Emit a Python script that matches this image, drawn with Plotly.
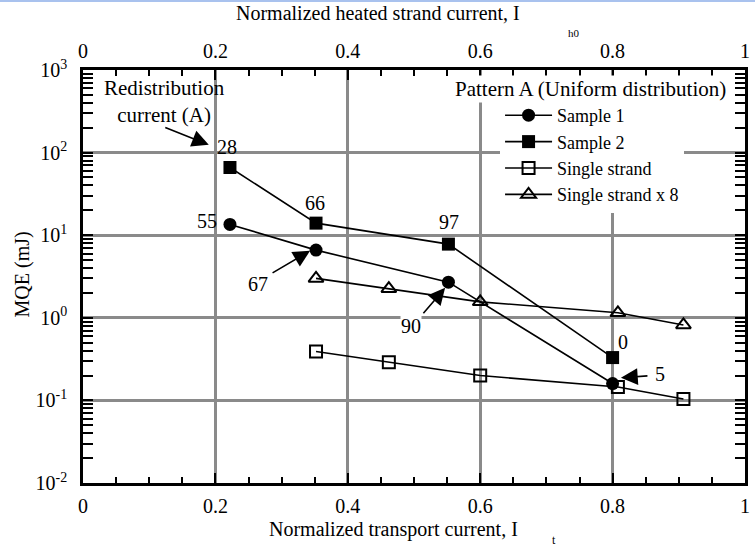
import plotly.graph_objects as go

# ---- data ----
s1_x = [0.222, 0.352, 0.552, 0.800]
s1_y = [13.5, 6.6, 2.7, 0.16]

s2_x = [0.222, 0.352, 0.552, 0.800]
s2_y = [66, 14, 7.8, 0.33]

ss_x = [0.352, 0.462, 0.600, 0.808, 0.907]
ss_y = [0.39, 0.29, 0.20, 0.145, 0.104]

ss8_x = [0.352, 0.462, 0.600, 0.808, 0.907]
ss8_y = [3.0, 2.25, 1.56, 1.15, 0.82]

x_ticks = [0, 0.2, 0.4, 0.6, 0.8, 1]
x_ticklabels = ["0", "0.2", "0.4", "0.6", "0.8", "1"]
y_ticks = [0.01, 0.1, 1, 10, 100, 1000]
y_ticklabels = ["10<sup>-2</sup>", "10<sup>-1</sup>", "10<sup>0</sup>",
                "10<sup>1</sup>", "10<sup>2</sup>", "10<sup>3</sup>"]

FONT = "Liberation Serif, Times New Roman, serif"
LINE = dict(color="black", width=1.6)

fig = go.Figure()
fig.add_trace(go.Scatter(x=s1_x, y=s1_y, mode="lines+markers", name="Sample 1",
                         line=LINE, marker=dict(symbol="circle", size=13, color="black")))
fig.add_trace(go.Scatter(x=s2_x, y=s2_y, mode="lines+markers", name="Sample 2",
                         line=LINE, marker=dict(symbol="square", size=13, color="black")))
fig.add_trace(go.Scatter(x=ss_x, y=ss_y, mode="lines+markers", name="Single strand",
                         line=LINE, marker=dict(symbol="square-open", size=12, color="black",
                                                line=dict(width=2, color="black"))))
fig.add_trace(go.Scatter(x=ss8_x, y=ss8_y, mode="lines+markers", name="Single strand x 8",
                         line=LINE, marker=dict(symbol="triangle-up-open", size=13, color="black",
                                                line=dict(width=2, color="black"))))
# invisible trace to activate the top axis
fig.add_trace(go.Scatter(x=[0, 1], y=[1, 1], xaxis="x2", mode="lines", opacity=0,
                         showlegend=False, hoverinfo="skip"))

minor_y = [m * 10 ** e for e in range(-2, 3) for m in range(2, 10)]

fig.update_layout(
    width=755, height=546,
    margin=dict(l=83, r=5, t=70, b=63),
    paper_bgcolor="white", plot_bgcolor="white",
    font=dict(family=FONT, size=20, color="black"),
    showlegend=True,
    legend=dict(x=0.63, y=0.9346, xanchor="left", yanchor="top",
                bgcolor="white", font=dict(size=18, family=FONT),
                borderwidth=0, tracegroupgap=0, itemwidth=47),
    xaxis=dict(range=[0, 1], tickvals=x_ticks, ticktext=x_ticklabels,
               ticks="inside", ticklen=10, tickwidth=2, tickcolor="black",
               showline=True, linecolor="black", linewidth=2.5, mirror="allticks",
               showgrid=True, gridcolor="#8a8a8a", gridwidth=3,
               zeroline=False, tickfont=dict(size=20), ticklabelstandoff=3,
               minor=dict(dtick=0.05, tick0=0, ticks="inside", ticklen=6,
                          tickwidth=1.5, tickcolor="black", showgrid=False)),
    xaxis2=dict(range=[0, 1], overlaying="x", side="top",
                tickvals=x_ticks, ticktext=x_ticklabels, ticks="",
                showline=False, showgrid=False, zeroline=False,
                tickfont=dict(size=20), ticklabelstandoff=7),
    yaxis=dict(type="log", range=[-2, 3], tickvals=y_ticks, ticktext=y_ticklabels,
               ticks="inside", ticklen=10, tickwidth=2, tickcolor="black",
               showline=True, linecolor="black", linewidth=2.5, mirror="allticks",
               showgrid=True, gridcolor="#8a8a8a", gridwidth=3,
               zeroline=False, tickfont=dict(size=20), ticklabelstandoff=9,
               minor=dict(tickvals=minor_y, ticks="inside", ticklen=6,
                          tickwidth=1.5, tickcolor="black", showgrid=False)),
)

C = dict(xanchor="center", yanchor="middle")
ann = []
# axis titles
ann.append(dict(text="Normalized transport current, I", xref="paper", yref="paper",
                x=0.469, y=-0.112, showarrow=False, font=dict(size=20), **C))
ann.append(dict(text="t", xref="paper", yref="paper", x=0.711, y=-0.138,
                showarrow=False, font=dict(size=12), **C))
ann.append(dict(text="Normalized heated strand current, I", xref="paper", yref="paper",
                x=0.445, y=1.138, showarrow=False, font=dict(size=20), **C))
ann.append(dict(text="h0", xref="paper", yref="paper", x=0.741, y=1.090,
                showarrow=False, font=dict(size=11), **C))
ann.append(dict(text="MQE (mJ)", xref="paper", yref="paper", x=-0.0915, y=0.506,
                textangle=-90, showarrow=False, font=dict(size=20), **C))
# legend title
ann.append(dict(text="Pattern A (Uniform distribution)", xref="paper", yref="paper",
                x=0.975, y=0.953, xanchor="right", yanchor="middle", showarrow=False,
                bgcolor="white", font=dict(size=21)))
# redistribution current labels
ann.append(dict(text="Redistribution<br>current (A)", x=0.123, y=2.615, xref="x", yref="y",
                showarrow=False, font=dict(size=21), **C))
labels = [("28", 0.218, 2.07), ("66", 0.351, 1.392), ("55", 0.187, 1.174),
          ("97", 0.553, 1.162), ("67", 0.265, 0.412), ("90", 0.496, -0.097),
          ("0", 0.815, -0.29), ("5", 0.871, -0.678)]
for t, lx, ly in labels:
    ann.append(dict(text=t, x=lx, y=ly, xref="x", yref="y", showarrow=False,
                    font=dict(size=20), borderpad=0,
                    bgcolor="white" if t == "90" else "rgba(255,255,255,0)", **C))
# arrows (tip in data coords, tail offset in px)
arrows = [(0.19, 2.094, -45, -18), (0.343, 0.811, -39, 23),
          (0.547, 0.363, -23, 27), (0.8126, -0.726, 28, -2)]
for tx, ty, axo, ayo in arrows:
    ann.append(dict(text="", x=tx, y=ty, xref="x", yref="y", ax=axo, ay=ayo,
                    showarrow=True, arrowhead=2, arrowsize=2.1, arrowwidth=1.6,
                    arrowcolor="black"))
fig.update_layout(annotations=ann)

# thin light-blue border line at the very top of the page
fig.add_shape(type="line", xref="paper", yref="paper", x0=-0.2, x1=1.1,
              y0=(483 - 1) / 413, y1=(483 - 1) / 413,
              line=dict(color="#a9c2ee", width=2))

fig.write_html("out.html")
